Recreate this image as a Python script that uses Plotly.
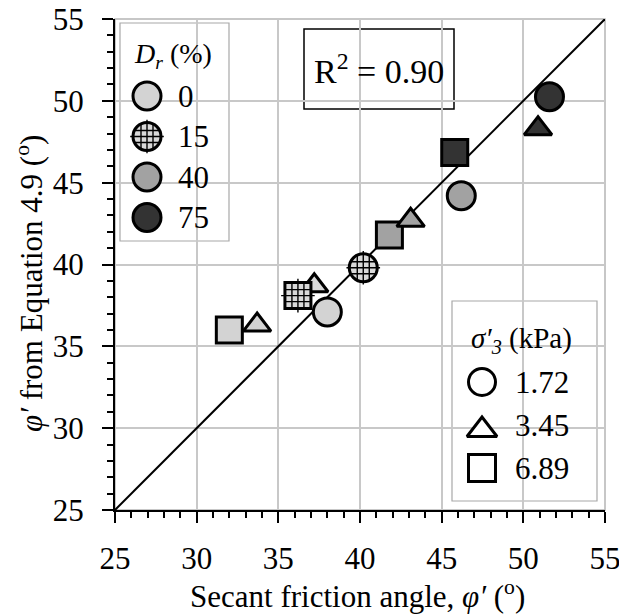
import plotly.graph_objects as go

# ---------------- data ----------------
dr_labels = ["0", "15", "40", "75"]
sigma_labels = ["1.72", "3.45", "6.89"]
axis_ticks = [25, 30, 35, 40, 45, 50, 55]

# secant friction angle (x) for each Dr, ordered by sigma'3 = [1.72, 3.45, 6.89]
secant_dr0 = [38.0, 33.7, 32.0]
secant_dr15 = [40.2, 37.2, 36.2]
secant_dr40 = [46.2, 43.1, 41.8]
secant_dr75 = [51.6, 50.9, 45.8]
# phi' from Equation 4.9 (y)
eq49_dr0 = [37.1, 36.3, 36.0]
eq49_dr15 = [39.8, 38.7, 38.1]
eq49_dr40 = [44.2, 42.7, 41.8]
eq49_dr75 = [50.25, 48.3, 46.85]
one_to_one = [25, 55]
r2_value = 0.90

# ---------------- style ----------------
W, H = 619, 615
ML, MR, MT, MB = 115, 14, 19, 105
PX0, PX1, PY0, PY1 = ML, W - MR, MT, H - MB
FONT = "Liberation Serif"
TXT = 31

def pxx(p):
    return (p - PX0) / (PX1 - PX0)

def pxy(p):
    return (PY1 - p) / (PY1 - PY0)

sym_by_sigma = ["circle", "triangle-up", "square"]
size_by_sigma = [28, 24, 26]
fill_by_dr = ["#d3d3d3", "#d9d9d9", "#a2a2a2", "#333333"]
secant = [secant_dr0, secant_dr15, secant_dr40, secant_dr75]
eq49 = [eq49_dr0, eq49_dr15, eq49_dr40, eq49_dr75]
# drawing order (dr index, sigma index) so overlaps match the original
draw_order = [(1, 1), (1, 2), (1, 0), (0, 1), (0, 2), (0, 0),
              (2, 2), (2, 1), (2, 0), (3, 2), (3, 1), (3, 0)]

fig = go.Figure()

# 1:1 line
fig.add_trace(go.Scatter(x=one_to_one, y=one_to_one, mode="lines",
                         line=dict(color="black", width=2), showlegend=False,
                         hoverinfo="skip"))

# data points
fig.add_trace(go.Scatter(
    x=[secant[d][s] for d, s in draw_order],
    y=[eq49[d][s] for d, s in draw_order],
    mode="markers", showlegend=False, cliponaxis=False,
    marker=dict(symbol=[sym_by_sigma[s] for d, s in draw_order],
                size=[size_by_sigma[s] for d, s in draw_order],
                color=[fill_by_dr[d] for d, s in draw_order],
                opacity=1,
                line=dict(color="black", width=3)),
))

# grid texture for Dr = 15 % (circle and square)
grid_idx = [0, 2]
for sym in ["hash-open", "cross-thin-open"]:
    fig.add_trace(go.Scatter(
        x=[secant_dr15[i] for i in grid_idx], y=[eq49_dr15[i] for i in grid_idx],
        mode="markers", showlegend=False, cliponaxis=False, hoverinfo="skip",
        marker=dict(symbol=sym, size=24, color="black", opacity=1,
                    line=dict(color="black", width=1.4)),
    ))

# ---------------- manual legends ----------------
shapes = []
annotations = []

def box(x0, y0, x1, y1, color, width):
    return dict(type="rect", xref="paper", yref="paper",
                x0=pxx(x0), x1=pxx(x1), y0=pxy(y1), y1=pxy(y0),
                line=dict(color=color, width=width), fillcolor="white", layer="below")

def label(x, y, text, size, xanchor="center", angle=0):
    return dict(xref="paper", yref="paper", x=pxx(x), y=pxy(y), text=text,
                showarrow=False, xanchor=xanchor, yanchor="middle", textangle=angle,
                font=dict(size=size, family=FONT, color="black"))

# Dr legend
shapes.append(box(120, 23, 229, 241, "#a8a8a8", 1.2))
annotations.append(label(173, 56, "<i>D<sub>r</sub></i> (%)", 28))
leg1_y = [96 + 40.5 * i for i in range(len(dr_labels))]
fig.add_trace(go.Scatter(x=[147] * len(dr_labels), y=leg1_y, xaxis="x2", yaxis="y2",
                         mode="markers", showlegend=False, hoverinfo="skip", cliponaxis=False,
                         marker=dict(symbol="circle", size=28, color=fill_by_dr, opacity=1,
                                     line=dict(color="black", width=3))))
for sym in ["hash-open", "cross-thin-open"]:
    fig.add_trace(go.Scatter(x=[147], y=[leg1_y[1]], xaxis="x2", yaxis="y2",
                             mode="markers", showlegend=False, hoverinfo="skip", cliponaxis=False,
                             marker=dict(symbol=sym, size=24, color="black", opacity=1,
                                         line=dict(color="black", width=1.4))))
for lab, yy in zip(dr_labels, leg1_y):
    annotations.append(label(176, yy, lab, TXT, "left"))

# sigma'3 legend
shapes.append(box(452, 301, 597, 501, "#a8a8a8", 1.2))
annotations.append(label(521, 340, "<i>σ′<sub>3</sub></i> (kPa)", 29))
leg2_y = [382 + 43 * i for i in range(len(sigma_labels))]
sym_offset = [0, 5, 0]
fig.add_trace(go.Scatter(x=[482] * len(sigma_labels),
                         y=[yy + o for yy, o in zip(leg2_y, sym_offset)],
                         xaxis="x2", yaxis="y2",
                         mode="markers", showlegend=False, hoverinfo="skip", cliponaxis=False,
                         marker=dict(symbol=sym_by_sigma, size=[27, 26, 27], color="white",
                                     opacity=1, line=dict(color="black", width=3))))
for lab, yy in zip(sigma_labels, leg2_y):
    annotations.append(label(513, yy, lab, TXT, "left"))

# R^2 box
shapes.append(box(304, 29, 454, 109, "black", 1.5))
annotations.append(label(379, 69, f"R<sup>2</sup> = {r2_value:.2f}", 34))

# plot frame (grey top/right)
shapes.append(dict(type="rect", xref="paper", yref="paper", x0=0, y0=0, x1=1, y1=1,
                   line=dict(color="#b5b5b5", width=1.5), layer="below"))

# axis titles
annotations.append(label(357, 594, "Secant friction angle, <i>φ′</i> (<sup>o</sup>)", TXT))
annotations.append(label(29, 284, "<i>φ′</i> from Equation 4.9 (<sup>o</sup>)", TXT,
                         angle=-90))

axis_common = dict(
    range=[axis_ticks[0], axis_ticks[-1]], tickvals=axis_ticks,
    ticks="outside", ticklen=11, tickwidth=1.5, tickcolor="black",
    showline=True, linecolor="black", linewidth=2,
    showgrid=True, gridcolor="#c8c8c8", gridwidth=1.5, zeroline=False,
    minor=dict(dtick=1, ticks="outside", ticklen=6, tickwidth=1.5,
               tickcolor="black", showgrid=False),
    tickfont=dict(size=TXT, family=FONT, color="black"),
    fixedrange=True, layer="below traces", automargin=False,
    ticklabeloverflow="allow",
)

fig.update_layout(
    width=W, height=H,
    margin=dict(l=ML, r=MR, t=MT, b=MB, pad=0, autoexpand=False),
    paper_bgcolor="white", plot_bgcolor="white",
    showlegend=False,
    xaxis=dict(**axis_common, ticklabelstandoff=9),
    yaxis=dict(**axis_common, ticklabelstandoff=12),
    xaxis2=dict(overlaying="x", range=[PX0, PX1], visible=False, fixedrange=True,
                automargin=False),
    yaxis2=dict(overlaying="y", range=[PY1, PY0], visible=False, fixedrange=True,
                automargin=False),
    shapes=shapes, annotations=annotations,
    font=dict(family=FONT, color="black"),
)

fig.write_html("out.html")
